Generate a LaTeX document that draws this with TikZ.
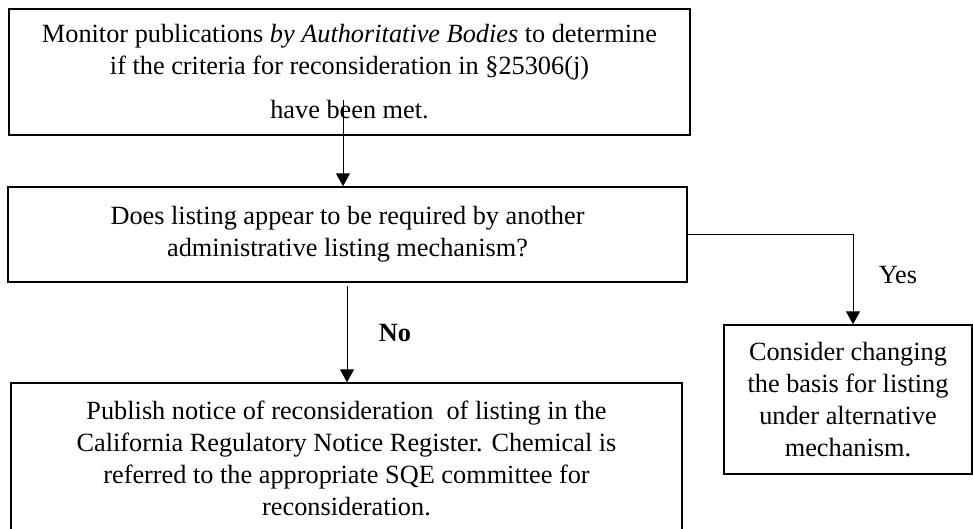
\documentclass[tikz,border=0pt]{standalone}
\usepackage{fontspec}
\setmainfont{Liberation Serif}
\usetikzlibrary{arrows.meta}
\begin{document}
\begin{tikzpicture}[x=0.5pt,y=-0.5pt,
		every node/.style={font=\fontsize{13.15}{16}\selectfont},
		box/.style={draw,line width=0.7pt,inner sep=0pt,align=center},
		flow/.style={line width=0.5pt,-{Triangle[length=6.5pt,width=7pt]}}]
		\useasboundingbox (0,0) rectangle (973,529);
		\clip (0,0) rectangle (973,529);
		\node[box,minimum width=340.5pt,minimum height=63pt] (monitor) at (349.5,72)
			{Monitor publications \emph{by Authoritative Bodies} to determine\\
			if the criteria for reconsideration in §25306(j)\\[6pt]
			have been met.};
		\node[box,minimum width=339.5pt,minimum height=47.5pt] (check) at (347.5,234.5)
			{Does listing appear to be required by another\\
			administrative listing mechanism?};
		\node[box,minimum width=124pt,minimum height=74.5pt] (alt) at (848,399.5)
			{Consider changing\\ the basis for listing\\ under alternative\\ mechanism.};
		\node[box,minimum width=335.5pt,minimum height=75pt] (publish) at (346.5,458)
			{Publish notice of reconsideration~ of listing in the\\
			California Regulatory Notice Register. Chemical is\\
			referred to the appropriate SQE committee for\\
			reconsideration.};
		\coordinate (start) at (343,100);
		\coordinate (nostart) at (347,286);
		\draw[flow] (start) -- (start |- check.north);
		\draw[flow] (check.east) -| ([xshift=2.5pt]alt.north);
		\draw[flow] (nostart) -- (nostart |- publish.north);
		\node (yes) at (898,275) {Yes};
		\node (no) at (395,333) {\bfseries No};
	\end{tikzpicture}
\end{document}
